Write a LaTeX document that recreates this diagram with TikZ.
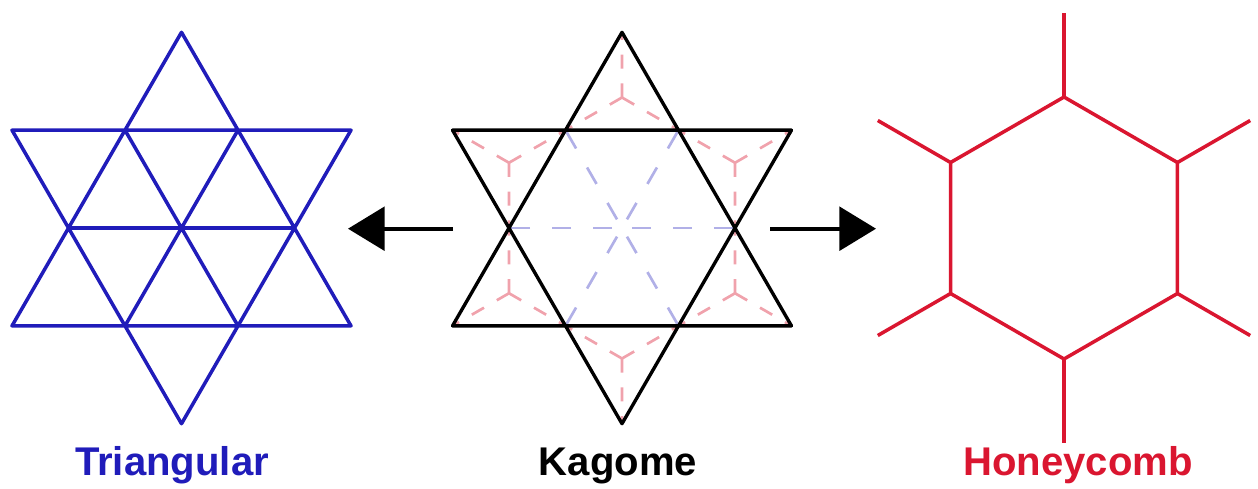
\documentclass[tikz,border=0pt]{standalone}
\usepackage{fontspec}
\setmainfont{Liberation Sans}
\usetikzlibrary{arrows.meta}

\definecolor{latblue}{RGB}{32,28,186}
\definecolor{honeyred}{RGB}{218,22,48}

\begin{document}
\begin{tikzpicture}[
  x=0.025cm, y=0.025cm,
  tri/.style={draw=latblue, line width=2.5pt, line join=round},
  kag/.style={draw=black, line width=2.4pt, line join=round},
  hon/.style={draw=honeyred, line width=2.5pt},
  hondash/.style={draw=honeyred!40, line width=1.9pt, dash pattern=on 10pt off 10.5pt},
  tridash/.style={draw=latblue!35, line width=1.9pt, dash pattern=on 13.5pt off 15.6pt, dash phase=22pt},
  arrow/.style={-{Triangle[length=26pt, width=31pt]}, line width=2.6pt},
  latname/.style={font=\bfseries\fontsize{28.5}{30}\selectfont, anchor=base}
]
\useasboundingbox (0,0) rectangle (1258,-488);

\coordinate (T) at (181.5,-228);
\coordinate (K) at (622,-228);
\coordinate (H) at (1064,-228);

\draw[tri, shift={(T)}] (90:195.7) -- (210:195.7) -- (330:195.7) -- cycle
  (270:195.7) -- (30:195.7) -- (150:195.7) -- cycle
  (0:113) -- (180:113) (60:113) -- (240:113) (120:113) -- (300:113);

\begin{scope}[shift={(K)}]
  \foreach \a in {30,90,...,330}
    \draw[hondash] (\a:130.5) -- (\a:195.7) (\a:130.5) -- (\a+30:113) (\a:130.5) -- (\a-30:113);
  \foreach \a in {0,60,...,300}
    \draw[tridash] (0,0) -- (\a:113);
  \draw[kag] (90:195.7) -- (210:195.7) -- (330:195.7) -- cycle
    (270:195.7) -- (30:195.7) -- (150:195.7) -- cycle;
\end{scope}

\begin{scope}[shift={(H)}]
  \draw[hon] (30:131) -- (90:131) -- (150:131) -- (210:131) -- (270:131) -- (330:131) -- cycle;
  \foreach \a in {30,90,...,330}
    \draw[hon] (\a:131) -- (\a:215);
\end{scope}

\coordinate (kagleft) at (453,-228.7);
\coordinate (trihead) at (348,-228.7);
\coordinate (kagright) at (770,-228.7);
\coordinate (honhead) at (876,-228.7);
\draw[arrow] (kagleft) -- (trihead);
\draw[arrow] (kagright) -- (honhead);

\node[latname, text=latblue] (trilabel) at (172,-475) {Triangular};
\node[latname] (kaglabel) at (618,-475) {Kagome};
\node[latname, text=honeyred] (honlabel) at (1078,-475) {Honeycomb};

\end{tikzpicture}
\end{document}
